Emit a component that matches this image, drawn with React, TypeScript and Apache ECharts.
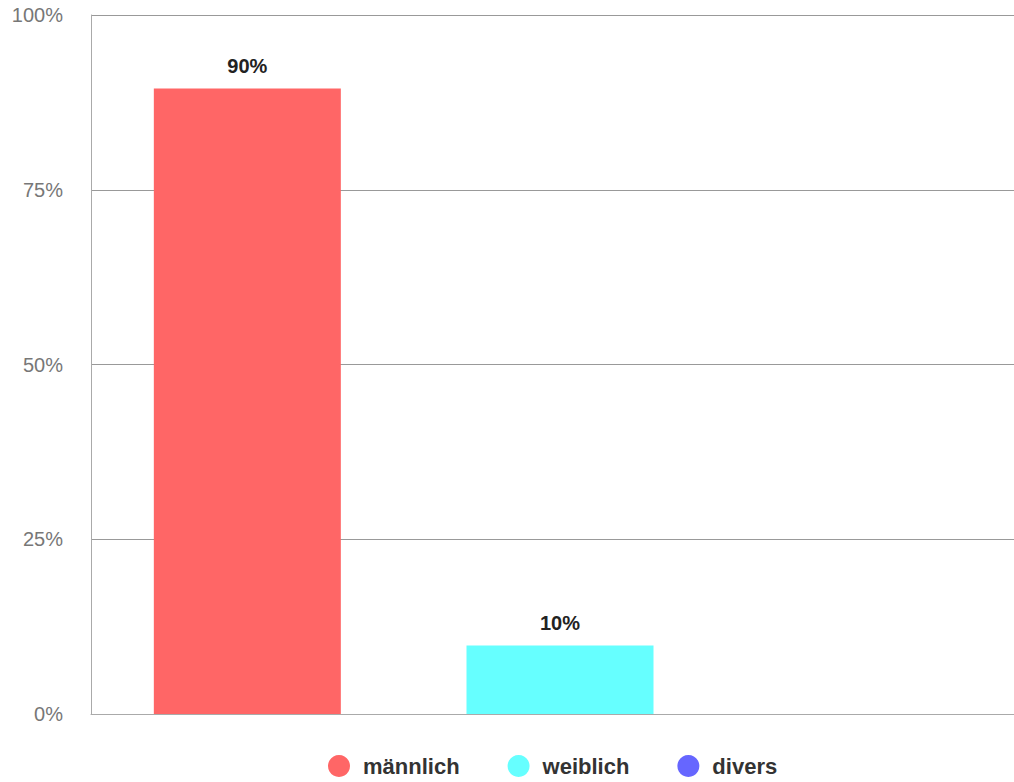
import React, { useEffect, useRef } from "react";
import * as echarts from "echarts";

const categories = ["männlich", "weiblich", "divers"];
const seriesNames = ["männlich", "weiblich", "divers"];
const values = [89.5, 9.8, 0];
const colors = ["#ff6666", "#66ffff", "#6666ff"];
const yTicks = [0, 25, 50, 75, 100];

const FONT = "'Liberation Sans', Arial, Helvetica, sans-serif";

export default function App() {
  const ref = useRef<HTMLDivElement>(null);
  useEffect(() => {
    if (!ref.current) return;
    const chart = echarts.init(ref.current, undefined, { renderer: "svg" });
    const series = seriesNames.map((name, i) => ({
      name,
      type: "bar",
      stack: "all",
      barWidth: 187,
      itemStyle: { color: colors[i] },
      data: categories.map((_, j) => (j === i ? values[i] : null)),
      label: {
        show: true,
        position: "top",
        distance: 12,
        fontSize: 20,
        fontWeight: "bold",
        color: "#222",
        fontFamily: FONT,
        formatter: (p: any) => (p.value ? Math.round(p.value) + "%" : ""),
      },
    }));
    chart.setOption({
      animation: false,
      textStyle: { fontFamily: FONT },
      grid: { left: 91, right: 0, top: 15, bottom: 68, containLabel: false },
      legend: {
        data: seriesNames,
        icon: "circle",
        itemWidth: 38,
        itemHeight: 22,
        itemGap: 48,
        left: 323,
        top: 750,
        textStyle: { fontSize: 22, fontWeight: "bold", color: "#333", fontFamily: FONT },
      },
      xAxis: {
        type: "category",
        data: categories,
        axisLabel: { show: false },
        axisTick: { show: false },
        axisLine: { show: true, lineStyle: { color: "#aaa", width: 1 } },
      },
      yAxis: {
        type: "value",
        min: yTicks[0],
        max: yTicks[yTicks.length - 1],
        interval: 25,
        axisLine: { show: true, lineStyle: { color: "#aaa", width: 1 } },
        axisTick: { show: false },
        splitLine: { show: true, lineStyle: { color: "#999", width: 1 } },
        axisLabel: {
          margin: 28,
          fontSize: 20,
          color: "#777",
          fontFamily: FONT,
          padding: [4, 0, 0, 0],
          formatter: (v: number) => v + "%",
        },
      },
      series,
    });
    return () => chart.dispose();
  }, []);
  return (
    <div
      style={{
        position: "fixed",
        left: 0,
        top: 0,
        width: 1014,
        height: 782,
        overflow: "hidden",
        background: "#fff",
      }}
    >
      <div ref={ref} style={{ width: 1029, height: 782 }} />
    </div>
  );
}
